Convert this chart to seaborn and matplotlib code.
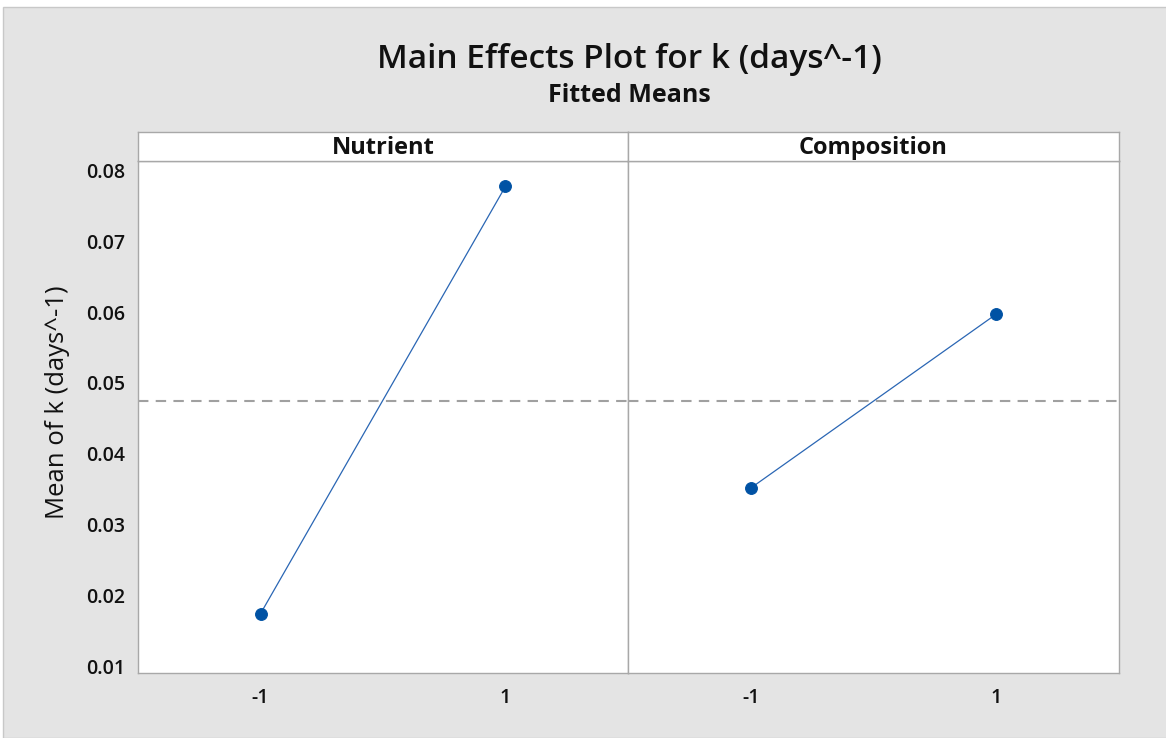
import matplotlib
matplotlib.use("Agg")
import matplotlib.pyplot as plt
import seaborn as sns
import pandas as pd
from matplotlib.patches import Rectangle

# Fitted means for each factor at its low (-1) and high (1) level
factors = ["Nutrient", "Composition"]
levels = [-1, 1]
nutrient_means = [0.0175, 0.0777]
composition_means = [0.0352, 0.0597]
y_ticks = [0.01, 0.02, 0.03, 0.04, 0.05, 0.06, 0.07, 0.08]
x_tick_labels = ["-1", "1"]

df = pd.DataFrame({
    "factor": [factors[0]] * 2 + [factors[1]] * 2,
    "level": levels * 2,
    "mean": nutrient_means + composition_means,
})
grand_mean = df["mean"].mean()

sns.set_theme(style="white")
plt.rcParams["font.family"] = ["Open Sans", "DejaVu Sans"]

BG = "#e4e4e4"
EDGE = "#a8a8a8"
POINT = "#0052a4"
LINE = "#2a66b4"

W, H = 1166, 738
fig = plt.figure(figsize=(W / 100, H / 100), dpi=100)
fig.patch.set_facecolor("white")
fig.add_artist(Rectangle((3 / W, 0), 1, 1 - 7 / H, transform=fig.transFigure,
                         facecolor=BG, edgecolor="#c8c8c8", linewidth=1, zorder=0))

left, mid, right = 138 / W, 628 / W, 1119 / W
bottom, top = 1 - 673 / H, 1 - 161 / H
strip_top = 1 - 132 / H

ylim = (0.00915, 0.08127)
for i, fac in enumerate(factors):
    x0 = left if i == 0 else mid
    w = (mid - left) if i == 0 else (right - mid)
    ax = fig.add_axes([x0, bottom, w, top - bottom])
    sub = df[df["factor"] == fac]
    ax.axhline(grand_mean, color="#a0a0a0", linestyle=(0, (5, 3.5)), linewidth=1.5, zorder=1)
    sns.lineplot(data=sub, x="level", y="mean", ax=ax, color=LINE, linewidth=0.9,
                 marker="o", markersize=8.5, markerfacecolor=POINT,
                 markeredgecolor=POINT, zorder=3)
    ax.set_xlim(-2, 2)
    ax.set_ylim(*ylim)
    ax.set_facecolor("white")
    ax.set_xlabel("")
    ax.set_ylabel("")
    ax.set_xticks(levels)
    ax.set_xticklabels(x_tick_labels, fontsize=14, fontweight="semibold", color="#111111")
    for s in ax.spines.values():
        s.set_color(EDGE)
        s.set_linewidth(1.0)
    ax.tick_params(axis="x", direction="out", length=7, width=1, color=EDGE, pad=4)
    if i == 0:
        ax.set_yticks(y_ticks)
        ax.set_yticklabels([f"{t:.2f}" for t in y_ticks], fontsize=14,
                           fontweight="semibold", color="#111111")
        ax.tick_params(axis="y", direction="out", length=6, width=1, color=EDGE, pad=3)
    else:
        ax.set_yticks([])
        ax.tick_params(axis="y", left=False, labelleft=False)

    # Strip header with the factor name
    sax = fig.add_axes([x0, top, w, strip_top - top])
    sax.set_facecolor("white")
    sax.set_xticks([])
    sax.set_yticks([])
    for s in sax.spines.values():
        s.set_color(EDGE)
        s.set_linewidth(1.0)
    sax.text(0.5, 0.45, fac, transform=sax.transAxes, ha="center", va="center",
             fontsize=17, fontweight="bold", color="#111111")

fig.text(629 / W, 1 - 60 / H, "Main Effects Plot for k (days^-1)", ha="center",
         va="center", fontsize=24, fontweight="semibold", color="#111111")
fig.text(629 / W, 1 - 96 / H, "Fitted Means", ha="center", va="center",
         fontsize=18, fontweight="bold", color="#111111")
fig.text(57 / W, 1 - 402 / H, "Mean of k (days^-1)", ha="center", va="center",
         rotation=90, fontsize=18.5, color="#111111")

fig.savefig("out.png", dpi=100, facecolor=fig.get_facecolor())
